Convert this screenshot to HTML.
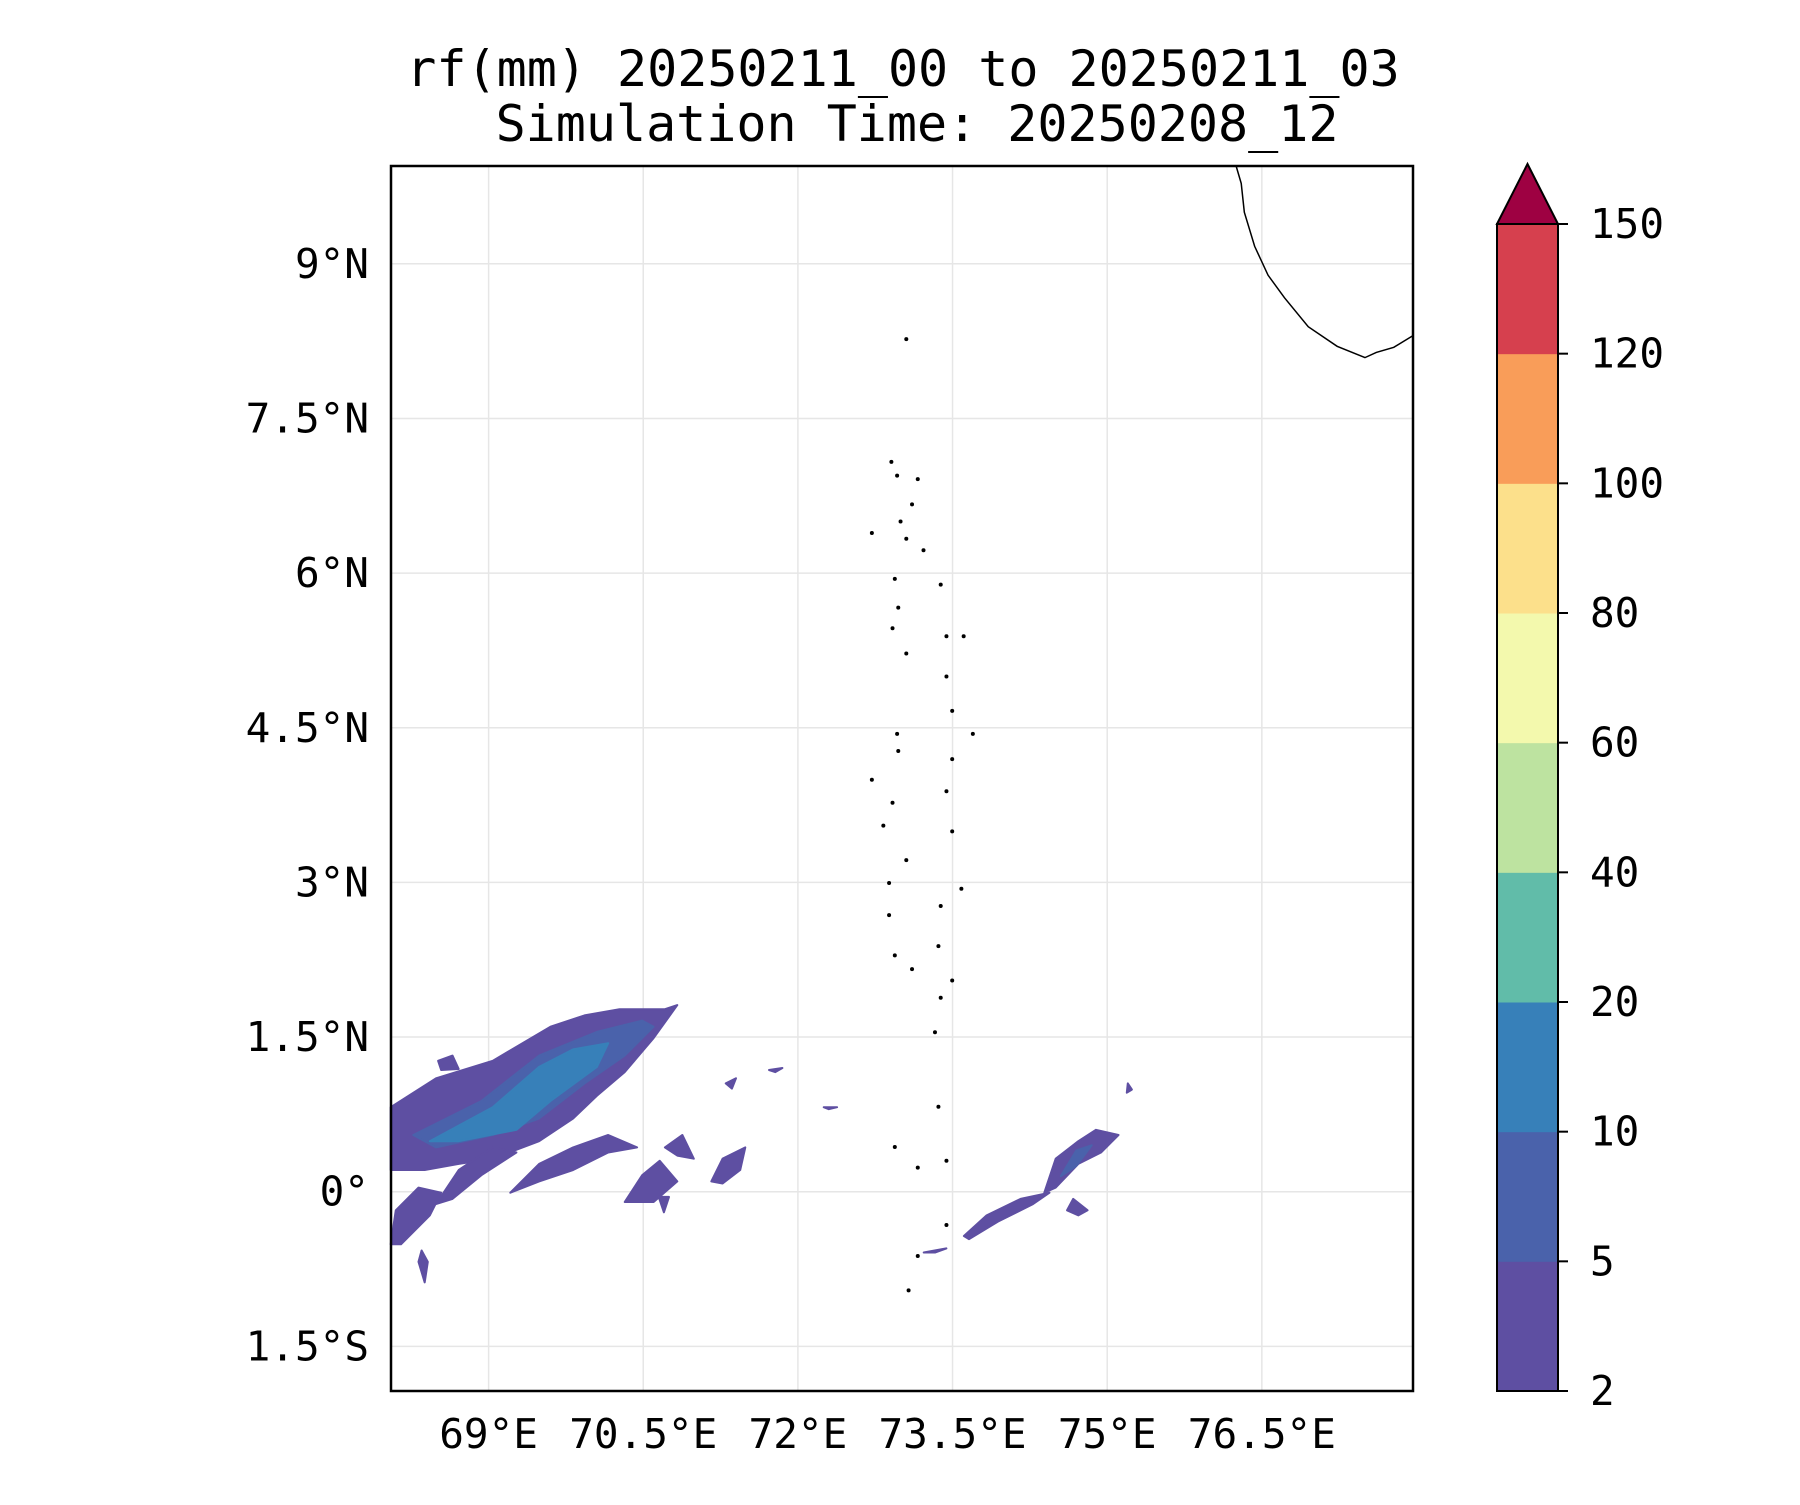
<!DOCTYPE html>
<html><head><meta charset="utf-8">
<style>
html,body{margin:0;padding:0;background:#fff;}
svg text{font-family:"DejaVu Sans Mono","Liberation Mono",monospace;fill:#000;}
</style></head>
<body>
<svg id="chart" width="1800" height="1500" viewBox="0 0 1800 1500" xmlns="http://www.w3.org/2000/svg">
<g id="grid"></g>
<g id="rain"></g>
<g id="geo"></g>
<rect x="391" y="166" width="1022" height="1225" fill="none" stroke="#000" stroke-width="2.5"/>
<g id="xt"></g>
<g id="yt"></g>
<g id="cb"></g>
<text x="903" y="86" font-size="50" text-anchor="middle">rf(mm) 20250211_00 to 20250211_03</text>
<text x="917" y="141" font-size="50" text-anchor="middle">Simulation Time: 20250208_12</text>
</svg>
<script>
const lonTicks=[69,70.5,72,73.5,75,76.5];
const lonLabels=["69°E","70.5°E","72°E","73.5°E","75°E","76.5°E"];
const latTicks=[9,7.5,6,4.5,3,1.5,0,-1.5];
const latLabels=["9°N","7.5°N","6°N","4.5°N","3°N","1.5°N","0°","1.5°S"];
const cbLevels=[2,5,10,20,40,60,80,100,120,150];
const cbColors=["#5e4fa2","#4a62ab","#3780b9","#61bca9","#bde3a0","#f3f9ad","#fce08b","#f99d59","#d6404e"];
const extendColor="#9e0142";
const rainLevel1=[
[[68.05,0.82],[68.49,1.10],[69.04,1.27],[69.60,1.60],[69.93,1.71],[70.27,1.77],[70.71,1.77],[70.83,1.81],[70.60,1.49],[70.32,1.16],[70.05,0.93],[69.82,0.71],[69.49,0.49],[69.04,0.32],[68.71,0.27],[68.38,0.21],[68.05,0.21]],
[[68.05,-0.51],[68.10,-0.18],[68.32,0.04],[68.54,-0.01],[68.43,-0.23],[68.15,-0.51]],
[[68.49,-0.12],[68.71,0.21],[69.04,0.43],[69.27,0.38],[68.93,0.16],[68.65,-0.07]],
[[69.21,-0.01],[69.49,0.27],[69.82,0.43],[70.16,0.55],[70.44,0.43],[70.16,0.38],[69.82,0.21],[69.49,0.10]],
[[70.32,-0.10],[70.49,0.16],[70.66,0.30],[70.83,0.10],[70.60,-0.10]],
[[70.71,0.43],[70.88,0.55],[70.99,0.32],[70.83,0.35]],
[[71.16,0.10],[71.27,0.32],[71.49,0.43],[71.44,0.21],[71.27,0.08]],
[[74.39,-0.01],[74.50,0.32],[74.72,0.49],[74.89,0.60],[75.11,0.55],[74.94,0.38],[74.72,0.27],[74.50,0.04]],
[[73.61,-0.43],[73.83,-0.23],[74.16,-0.07],[74.44,-0.01],[74.28,-0.12],[73.94,-0.29],[73.66,-0.46]],
[[74.61,-0.18],[74.67,-0.07],[74.81,-0.18],[74.72,-0.23]],
[[73.22,-0.59],[73.44,-0.55],[73.33,-0.59]],
[[68.32,-0.68],[68.35,-0.57],[68.41,-0.68],[68.38,-0.88]],
[[68.51,1.27],[68.65,1.32],[68.71,1.19],[68.54,1.18]],
[[75.20,1.05],[75.24,0.99],[75.19,0.96]],
[[71.72,1.18],[71.85,1.20],[71.78,1.16]],
[[72.25,0.82],[72.38,0.82],[72.30,0.80]],
[[71.30,1.05],[71.40,1.10],[71.36,1.00]],
[[70.65,-0.05],[70.70,-0.20],[70.75,-0.05]]];
const rainLevel2=[
[[68.27,0.55],[68.93,0.88],[69.49,1.32],[70.05,1.55],[70.49,1.66],[70.60,1.60],[70.32,1.32],[69.93,1.05],[69.49,0.71],[69.04,0.55],[68.49,0.43]],
[[74.55,0.15],[74.70,0.40],[74.85,0.45],[74.70,0.25]]];
const rainLevel3=[
[[68.43,0.49],[69.04,0.82],[69.49,1.21],[69.82,1.38],[70.16,1.44],[70.05,1.21],[69.60,0.88],[69.27,0.60],[68.71,0.49]]];
const levelSets=[rainLevel1,rainLevel2,rainLevel3];
const X=lon=>488.6+(lon-69)*103.1;
const Y=lat=>1191.7-lat*103.1;
const NS="http://www.w3.org/2000/svg";
function mk(tag,attrs,parent){const e=document.createElementNS(NS,tag);for(const k in attrs)e.setAttribute(k,attrs[k]);parent.appendChild(e);return e;}
const grid=document.getElementById('grid');
lonTicks.forEach(v=>{const l=mk('line',{x1:X(v),x2:X(v),y1:166,y2:1391,stroke:'#e6e6e6','stroke-width':1.5},grid);

});
latTicks.forEach(v=>{const l=mk('line',{x1:391,x2:1413,y1:Y(v),y2:Y(v),stroke:'#e6e6e6','stroke-width':1.5},grid);

});
const xt=document.getElementById('xt');
lonTicks.forEach((v,i)=>{const t=mk('text',{x:X(v),y:1448,'font-size':41,'text-anchor':'middle'},xt);t.textContent=lonLabels[i];

});
const yt=document.getElementById('yt');
latTicks.forEach((v,i)=>{const t=mk('text',{x:369,y:Y(v)+14,'font-size':41,'text-anchor':'end'},yt);t.textContent=latLabels[i];

});
const rain=document.getElementById('rain');
levelSets.forEach((set,li)=>set.forEach(poly=>{
const p=mk('polygon',{points:poly.map(q=>X(q[0]).toFixed(1)+','+Y(q[1]).toFixed(1)).join(' '),fill:cbColors[li],stroke:cbColors[li],'stroke-width':2,'stroke-linejoin':'round'},rain);

}));
const inv=(x,y)=>[69+(x-426)*0.01113,(1039-y)*0.01113];
const geo=document.getElementById('geo');
const coast=[[76.25,9.95],[76.30,9.78],[76.33,9.50],[76.43,9.17],[76.56,8.89],[76.72,8.67],[76.95,8.39],[77.23,8.20],[77.50,8.09],[77.61,8.14],[77.78,8.19],[77.96,8.30]];
const c=mk('polyline',{points:coast.map(q=>X(q[0])+','+Y(q[1])).join(' '),fill:'none',stroke:'#000','stroke-width':1.5},geo);


const isl=[[790,296],[777,403],[782,415],[800,418],[795,440],[785,455],[790,470],[805,480],[780,505],[783,530],[778,548],[790,570],[820,510],[825,555],[840,555],[825,590],[830,620],[848,640],[782,640],[783,655],[830,662],[825,690],[760,680],[778,700],[770,720],[830,725],[790,750],[775,770],[838,775],[820,790],[775,798],[818,825],[780,833],[795,845],[830,855],[820,870],[818,965],[780,1000],[800,1018],[825,1012],[792,1125],[825,1068],[800,1095],[760,465],[815,900]];
isl.forEach(p=>{const g=inv(p[0],p[1]);const d=mk('circle',{cx:X(g[0]),cy:Y(g[1]),r:2,fill:'#000'},geo);

});
const cb=document.getElementById('cb');
const cbTop=224,cbBot=1391,cbX=1497,cbW=61,step=(cbBot-cbTop)/(cbLevels.length-1);
cbColors.forEach((col,i)=>{const r=mk('rect',{x:cbX,y:cbBot-(i+1)*step,width:cbW,height:step+0.5,fill:col},cb);

});
const tri=mk('polygon',{points:`${cbX},${cbTop} ${cbX+cbW/2},164 ${cbX+cbW},${cbTop}`,fill:extendColor,stroke:'#000','stroke-width':2},cb);


mk('rect',{x:cbX,y:cbTop,width:cbW,height:cbBot-cbTop,fill:'none',stroke:'#000','stroke-width':2},cb);
cbLevels.forEach((v,i)=>{const y=cbBot-i*step;
mk('line',{x1:cbX+cbW,x2:cbX+cbW+10,y1:y,y2:y,stroke:'#000','stroke-width':2},cb);
const t=mk('text',{x:1590,y:y+14,'font-size':41},cb);t.textContent=v;

});
</script>
</body></html>
